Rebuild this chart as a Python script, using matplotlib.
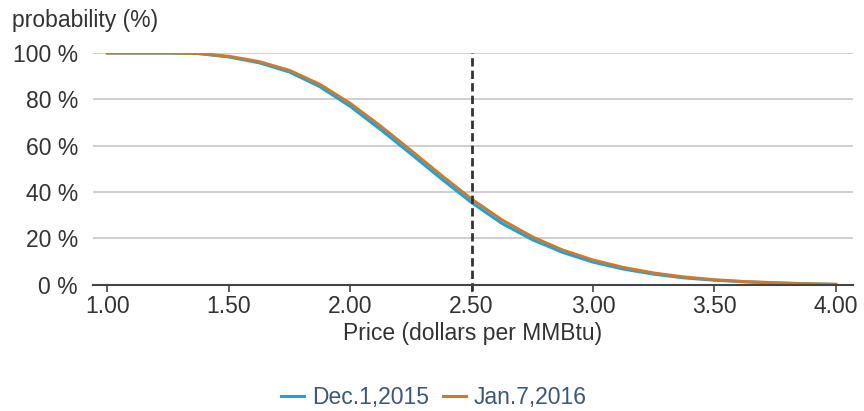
import matplotlib
matplotlib.use('Agg')
import matplotlib.pyplot as plt

# price (dollars per MMBtu)
price = [1.00, 1.125, 1.25, 1.375, 1.50, 1.625, 1.75, 1.875, 2.00, 2.125, 2.25, 2.375,
         2.50, 2.625, 2.75, 2.875, 3.00, 3.125, 3.25, 3.375, 3.50, 3.625, 3.75, 3.875, 4.00]
# probability (%) that price exceeds level
dec_2015 = [100, 100, 100, 99.8, 98.3, 95.8, 91.8, 85.5, 77.0, 67.0, 56.5, 45.8,
            35.5, 26.5, 19.5, 14.0, 9.8, 6.8, 4.6, 3.0, 2.0, 1.3, 0.8, 0.4, 0.2]
jan_2016 = [100, 100, 100, 99.8, 98.6, 96.3, 92.5, 86.5, 78.3, 68.5, 58.0, 47.3,
            37.0, 28.0, 20.7, 15.0, 10.7, 7.5, 5.1, 3.4, 2.2, 1.4, 0.9, 0.5, 0.2]

xticks = [1.00, 1.50, 2.00, 2.50, 3.00, 3.50, 4.00]
yticks = [0, 20, 40, 60, 80, 100]

plt.rcParams['font.family'] = ['Liberation Sans', 'DejaVu Sans']
fs = 16.5

fig = plt.figure(figsize=(8.64, 4.11), dpi=100)
ax = fig.add_axes([0.108, 0.307, 0.879, 0.564])

ax.plot(price, dec_2015, color='#1aa3dc', lw=2.2, label='Dec.1,2015')
ax.plot(price, jan_2016, color='#c97b33', lw=2.2, label='Jan.7,2016')

ax.axvline(2.5, ymin=-0.025, ymax=1.0, color='#333333', lw=2, ls=(0, (3, 1.5)),
           clip_on=False, zorder=3)

ax.set_xlim(0.942, 4.07)
ax.set_ylim(0, 100)
ax.set_xticks(xticks)
ax.set_xticklabels(['%.2f' % t for t in xticks])
ax.set_yticks(yticks)
ax.set_yticklabels(['%d %%' % t for t in yticks])

ax.grid(axis='y', color='#cccccc', lw=1.3)
ax.set_axisbelow(True)
for s in ['top', 'right', 'left']:
    ax.spines[s].set_visible(False)
ax.spines['bottom'].set_color('#444444')
ax.spines['bottom'].set_linewidth(1.5)
ax.spines['bottom'].set_zorder(4)

ax.tick_params(axis='x', length=5, width=1.2, color='#444444', labelsize=fs,
               labelcolor='#333333', pad=2)
ax.tick_params(axis='y', length=0, labelsize=fs, labelcolor='#333333', pad=11)

ax.set_xlabel('Price (dollars per MMBtu)', fontsize=fs, color='#333333', labelpad=3)
fig.text(0.014, 0.950, 'probability (%)', fontsize=fs, color='#333333',
         ha='left', va='center')

leg = fig.legend(loc='center', bbox_to_anchor=(0.502, 0.033), ncol=2, frameon=False,
                 fontsize=fs, handlelength=1.0, handletextpad=0.35, columnspacing=0.6)
for t in leg.get_texts():
    t.set_color('#3b5878')

plt.savefig('out.png', dpi=100)
